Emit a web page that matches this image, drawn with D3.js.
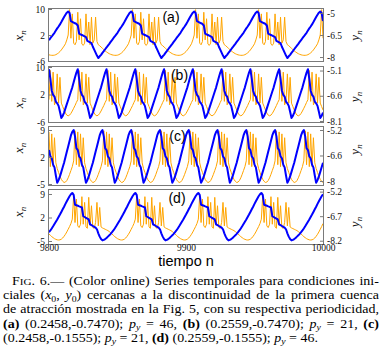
<!DOCTYPE html>
<html><head><meta charset="utf-8">
<script src="https://cdnjs.cloudflare.com/ajax/libs/d3/7.8.5/d3.min.js"></script>
<style>body{margin:0;background:#fff}svg{display:block}</style>
</head><body>
<svg id="c" width="382" height="358"></svg>
<script>
// ---------- data ----------
const nStart = 9800, nEnd = 10000;
const xTickValues = [9800, 9900, 10000];
const panelNames = ["(a)", "(b)", "(c)", "(d)"];
const leftTickValues = [[10, 2, -6], [10, 2, -6], [9, 2, -5], [9, 2, -5]];
const rightTickValues = [[-5, -6.5, -8], [-5.1, -6.6, -8.1], [-5.2, -6.6, -8], [-5.2, -6.7, -8.2]];

// panel (a): x_n (orange) and y_n (blue)
const xA = [-4.1,-4.2,-4.25,-4.25,-4.2,-4.05,-3.8,-3.5,-3.1,-2.6,-2,-1.4,-0.7,0.5,
2,9.8,1,8.5,-0.5,-1,0,9,0.5,7,-0.8,-1.2,-0.5,8.5,0,6,-1,7.5,-0.5,0.5,7.5,0,-1,-1.3,-1.7,-2.1,-2.5,-2.9,-3.2,-3.5,-3.75,-3.95,-4.1,-4.2,-4.25,-4.25,-4.2,-4.05,-3.8,-3.5,-3.1,-2.6,-2,-1.4,-0.7,0.5,
2,9.8,1,8.5,-0.5,-1,0,9,0.5,7,-0.8,-1.2,-0.5,8.5,0,6,-1,7.5,-0.5,0.5,7.5,0,-1,-1.3,-1.7,-2.1,-2.5,-2.9,-3.2,-3.5,-3.75,-3.95,-4.1,-4.2,-4.25,-4.25,-4.2,-4.05,-3.8,-3.5,-3.1,-2.6,-2,-1.4,-0.7,0.5,
2,9.8,1,8.5,-0.5,-1,0,9,0.5,7,-0.8,-1.2,-0.5,8.5,0,6,-1,7.5,-0.5,0.5,7.5,0,-1,-1.3,-1.7,-2.1,-2.5,-2.9,-3.2,-3.5,-3.75,-3.95,-4.1,-4.2,-4.25,-4.25,-4.2,-4.05,-3.8,-3.5,-3.1,-2.6,-2,-1.4,-0.7,0.5,
2,9.8,1,8.5,-0.5,-1,0,9,0.5,7,-0.8,-1.2,-0.5,8.5,0,6,-1,7.5,-0.5,0.5,7.5,0,-1,-1.3,-1.7,-2.1,-2.5,-2.9,-3.2,-3.5,-3.75,-3.95,-4.1,-4.2,-4.25,-4.25,-4.2,-4.05,-3.8,-3.5,-3.1,-2.6,-2,-1.4,-0.7,0.5,
2,9.8,1];
const yA = [-6.85,-6.72,-6.6,-6.47,-6.35,-6.2,-6.05,-5.92,-5.78,-5.62,-5.45,-5.28,-5.12,-4.98,
-4.9,-5,-5.55,-5.6,-5.65,-5.7,-5.75,-5.85,-6.4,-6.45,-6.5,-6.55,-6.6,-6.65,-6.9,-6.95,-7,-7.05,-7.3,-7.5,-7.7,-7.9,-8.07,-7.95,-7.85,-7.72,-7.6,-7.47,-7.35,-7.22,-7.1,-6.97,-6.85,-6.72,-6.6,-6.47,-6.35,-6.2,-6.05,-5.92,-5.78,-5.62,-5.45,-5.28,-5.12,-4.98,
-4.9,-5,-5.55,-5.6,-5.65,-5.7,-5.75,-5.85,-6.4,-6.45,-6.5,-6.55,-6.6,-6.65,-6.9,-6.95,-7,-7.05,-7.3,-7.5,-7.7,-7.9,-8.07,-7.95,-7.85,-7.72,-7.6,-7.47,-7.35,-7.22,-7.1,-6.97,-6.85,-6.72,-6.6,-6.47,-6.35,-6.2,-6.05,-5.92,-5.78,-5.62,-5.45,-5.28,-5.12,-4.98,
-4.9,-5,-5.55,-5.6,-5.65,-5.7,-5.75,-5.85,-6.4,-6.45,-6.5,-6.55,-6.6,-6.65,-6.9,-6.95,-7,-7.05,-7.3,-7.5,-7.7,-7.9,-8.07,-7.95,-7.85,-7.72,-7.6,-7.47,-7.35,-7.22,-7.1,-6.97,-6.85,-6.72,-6.6,-6.47,-6.35,-6.2,-6.05,-5.92,-5.78,-5.62,-5.45,-5.28,-5.12,-4.98,
-4.9,-5,-5.55,-5.6,-5.65,-5.7,-5.75,-5.85,-6.4,-6.45,-6.5,-6.55,-6.6,-6.65,-6.9,-6.95,-7,-7.05,-7.3,-7.5,-7.7,-7.9,-8.07,-7.95,-7.85,-7.72,-7.6,-7.47,-7.35,-7.22,-7.1,-6.97,-6.85,-6.72,-6.6,-6.47,-6.35,-6.2,-6.05,-5.92,-5.78,-5.62,-5.45,-5.28,-5.12,-4.98,
-4.9,-5,-5.55];

// panel (b)
const xB = [0.5,9,0,8.5,-1,0,8,-0.5,7,-0.5,-1.5,-2.5,-3.4,-4,-4.2,-4,-3.5,-2.8,-2,-1.2,-0.3,
0.5,9,0,8.5,-1,0,8,-0.5,7,-0.5,-1.5,-2.5,-3.4,-4,-4.2,-4,-3.5,-2.8,-2,-1.2,-0.3,
0.5,9,0,8.5,-1,0,8,-0.5,7,-0.5,-1.5,-2.5,-3.4,-4,-4.2,-4,-3.5,-2.8,-2,-1.2,-0.3,
0.5,9,0,8.5,-1,0,8,-0.5,7,-0.5,-1.5,-2.5,-3.4,-4,-4.2,-4,-3.5,-2.8,-2,-1.2,-0.3,
0.5,9,0,8.5,-1,0,8,-0.5,7,-0.5,-1.5,-2.5,-3.4,-4,-4.2,-4,-3.5,-2.8,-2,-1.2,-0.3,
0.5,9,0,8.5,-1,0,8,-0.5,7,-0.5,-1.5,-2.5,-3.4,-4,-4.2,-4,-3.5,-2.8,-2,-1.2,-0.3,
0.5,9,0,8.5,-1,0,8,-0.5,7,-0.5,-1.5,-2.5,-3.4,-4,-4.2,-4,-3.5,-2.8,-2,-1.2,-0.3,
0.5,9,0,8.5,-1,0,8,-0.5,7,-0.5,-1.5,-2.5,-3.4,-4,-4.2,-4,-3.5,-2.8,-2,-1.2,-0.3,
0.5,9,0,8.5,-1,0,8,-0.5,7,-0.5,-1.5,-2.5,-3.4,-4,-4.2,-4,-3.5,-2.8,-2,-1.2,-0.3,
0.5,9,0,8.5,-1,0,8,-0.5,7,-0.5,-1.5,-2.5];
const yB = [-5.02,-5.6,-6.3,-6.55,-6.65,-6.95,-7.05,-7.2,-7.55,-7.92,-7.8,-7.6,-7.35,-7.1,-6.85,-6.6,-6.35,-6.1,-5.8,-5.5,-5.22,
-5.02,-5.6,-6.3,-6.55,-6.65,-6.95,-7.05,-7.2,-7.55,-7.92,-7.8,-7.6,-7.35,-7.1,-6.85,-6.6,-6.35,-6.1,-5.8,-5.5,-5.22,
-5.02,-5.6,-6.3,-6.55,-6.65,-6.95,-7.05,-7.2,-7.55,-7.92,-7.8,-7.6,-7.35,-7.1,-6.85,-6.6,-6.35,-6.1,-5.8,-5.5,-5.22,
-5.02,-5.6,-6.3,-6.55,-6.65,-6.95,-7.05,-7.2,-7.55,-7.92,-7.8,-7.6,-7.35,-7.1,-6.85,-6.6,-6.35,-6.1,-5.8,-5.5,-5.22,
-5.02,-5.6,-6.3,-6.55,-6.65,-6.95,-7.05,-7.2,-7.55,-7.92,-7.8,-7.6,-7.35,-7.1,-6.85,-6.6,-6.35,-6.1,-5.8,-5.5,-5.22,
-5.02,-5.6,-6.3,-6.55,-6.65,-6.95,-7.05,-7.2,-7.55,-7.92,-7.8,-7.6,-7.35,-7.1,-6.85,-6.6,-6.35,-6.1,-5.8,-5.5,-5.22,
-5.02,-5.6,-6.3,-6.55,-6.65,-6.95,-7.05,-7.2,-7.55,-7.92,-7.8,-7.6,-7.35,-7.1,-6.85,-6.6,-6.35,-6.1,-5.8,-5.5,-5.22,
-5.02,-5.6,-6.3,-6.55,-6.65,-6.95,-7.05,-7.2,-7.55,-7.92,-7.8,-7.6,-7.35,-7.1,-6.85,-6.6,-6.35,-6.1,-5.8,-5.5,-5.22,
-5.02,-5.6,-6.3,-6.55,-6.65,-6.95,-7.05,-7.2,-7.55,-7.92,-7.8,-7.6,-7.35,-7.1,-6.85,-6.6,-6.35,-6.1,-5.8,-5.5,-5.22,
-5.02,-5.6,-6.3,-6.55,-6.65,-6.95,-7.05,-7.2,-7.55,-7.92,-7.8,-7.6];

// panel (c)
const xC = [8.5,-0.5,8,-0.5,7,0.5,-1,-2,-3,-3.8,-4.3,-4.6,-4.5,-4.1,-3.4,-2.5,-1.5,-0.5,
1,8.8,0,8.5,-0.5,8,-0.5,7,0.5,-1,-2,-3,-3.8,-4.3,-4.6,-4.5,-4.1,-3.4,-2.5,-1.5,-0.5,
1,8.8,0,8.5,-0.5,8,-0.5,7,0.5,-1,-2,-3,-3.8,-4.3,-4.6,-4.5,-4.1,-3.4,-2.5,-1.5,-0.5,
1,8.8,0,8.5,-0.5,8,-0.5,7,0.5,-1,-2,-3,-3.8,-4.3,-4.6,-4.5,-4.1,-3.4,-2.5,-1.5,-0.5,
1,8.8,0,8.5,-0.5,8,-0.5,7,0.5,-1,-2,-3,-3.8,-4.3,-4.6,-4.5,-4.1,-3.4,-2.5,-1.5,-0.5,
1,8.8,0,8.5,-0.5,8,-0.5,7,0.5,-1,-2,-3,-3.8,-4.3,-4.6,-4.5,-4.1,-3.4,-2.5,-1.5,-0.5,
1,8.8,0,8.5,-0.5,8,-0.5,7,0.5,-1,-2,-3,-3.8,-4.3,-4.6,-4.5,-4.1,-3.4,-2.5,-1.5,-0.5,
1,8.8,0,8.5,-0.5,8,-0.5,7,0.5,-1,-2,-3,-3.8,-4.3,-4.6,-4.5,-4.1,-3.4,-2.5,-1.5,-0.5,
1,8.8,0,8.5,-0.5,8,-0.5,7,0.5,-1,-2,-3,-3.8,-4.3,-4.6,-4.5,-4.1,-3.4,-2.5,-1.5,-0.5,
1,8.8,0,8.5,-0.5,8,-0.5,7,0.5,-1,-2,-3,-3.8,-4.3,-4.6];
const yC = [-6.3,-6.65,-6.75,-7.1,-7.25,-7.7,-8.1,-7.95,-7.75,-7.5,-7.25,-7,-6.7,-6.4,-6.1,-5.8,-5.5,-5.3,
-5.2,-5.55,-6.2,-6.3,-6.65,-6.75,-7.1,-7.25,-7.7,-8.1,-7.95,-7.75,-7.5,-7.25,-7,-6.7,-6.4,-6.1,-5.8,-5.5,-5.3,
-5.2,-5.55,-6.2,-6.3,-6.65,-6.75,-7.1,-7.25,-7.7,-8.1,-7.95,-7.75,-7.5,-7.25,-7,-6.7,-6.4,-6.1,-5.8,-5.5,-5.3,
-5.2,-5.55,-6.2,-6.3,-6.65,-6.75,-7.1,-7.25,-7.7,-8.1,-7.95,-7.75,-7.5,-7.25,-7,-6.7,-6.4,-6.1,-5.8,-5.5,-5.3,
-5.2,-5.55,-6.2,-6.3,-6.65,-6.75,-7.1,-7.25,-7.7,-8.1,-7.95,-7.75,-7.5,-7.25,-7,-6.7,-6.4,-6.1,-5.8,-5.5,-5.3,
-5.2,-5.55,-6.2,-6.3,-6.65,-6.75,-7.1,-7.25,-7.7,-8.1,-7.95,-7.75,-7.5,-7.25,-7,-6.7,-6.4,-6.1,-5.8,-5.5,-5.3,
-5.2,-5.55,-6.2,-6.3,-6.65,-6.75,-7.1,-7.25,-7.7,-8.1,-7.95,-7.75,-7.5,-7.25,-7,-6.7,-6.4,-6.1,-5.8,-5.5,-5.3,
-5.2,-5.55,-6.2,-6.3,-6.65,-6.75,-7.1,-7.25,-7.7,-8.1,-7.95,-7.75,-7.5,-7.25,-7,-6.7,-6.4,-6.1,-5.8,-5.5,-5.3,
-5.2,-5.55,-6.2,-6.3,-6.65,-6.75,-7.1,-7.25,-7.7,-8.1,-7.95,-7.75,-7.5,-7.25,-7,-6.7,-6.4,-6.1,-5.8,-5.5,-5.3,
-5.2,-5.55,-6.2,-6.3,-6.65,-6.75,-7.1,-7.25,-7.7,-8.1,-7.95,-7.75,-7.5,-7.25,-7];

// panel (d)
const xD = [-2.9,-3.3,-3.7,-4,-4.3,-4.5,-4.65,-4.7,-4.65,-4.45,-4.1,-3.6,-3,-2.3,-1.5,-0.7,0.2,
1.5,8.6,0.5,7.5,-0.5,-1,0,8.2,0,6.5,-0.8,-1.2,8,-0.3,5.5,-1,-1.2,0.5,6.5,-0.5,5,-0.8,-1.1,-1.3,-1.5,-1.7,-1.9,-2.2,-2.5,-2.9,-3.3,-3.7,-4,-4.3,-4.5,-4.65,-4.7,-4.65,-4.45,-4.1,-3.6,-3,-2.3,-1.5,-0.7,0.2,
1.5,8.6,0.5,7.5,-0.5,-1,0,8.2,0,6.5,-0.8,-1.2,8,-0.3,5.5,-1,-1.2,0.5,6.5,-0.5,5,-0.8,-1.1,-1.3,-1.5,-1.7,-1.9,-2.2,-2.5,-2.9,-3.3,-3.7,-4,-4.3,-4.5,-4.65,-4.7,-4.65,-4.45,-4.1,-3.6,-3,-2.3,-1.5,-0.7,0.2,
1.5,8.6,0.5,7.5,-0.5,-1,0,8.2,0,6.5,-0.8,-1.2,8,-0.3,5.5,-1,-1.2,0.5,6.5,-0.5,5,-0.8,-1.1,-1.3,-1.5,-1.7,-1.9,-2.2,-2.5,-2.9,-3.3,-3.7,-4,-4.3,-4.5,-4.65,-4.7,-4.65,-4.45,-4.1,-3.6,-3,-2.3,-1.5,-0.7,0.2,
1.5,8.6,0.5,7.5,-0.5,-1,0,8.2,0,6.5,-0.8,-1.2,8,-0.3,5.5,-1,-1.2,0.5,6.5,-0.5,5,-0.8,-1.1,-1.3,-1.5,-1.7,-1.9,-2.2,-2.5,-2.9,-3.3,-3.7,-4,-4.3,-4.5,-4.65,-4.7,-4.65,-4.45,-4.1,-3.6,-3,-2.3,-1.5,-0.7,0.2];
const yD = [-7.68,-7.57,-7.45,-7.32,-7.18,-7.04,-6.9,-6.75,-6.6,-6.44,-6.28,-6.12,-5.95,-5.79,-5.63,-5.48,-5.36,
-5.28,-5.4,-6,-6.03,-6.06,-6.1,-6.13,-6.17,-6.7,-6.75,-6.8,-6.85,-6.9,-7.2,-7.25,-7.3,-7.35,-7.4,-7.5,-7.75,-7.95,-8.1,-8.18,-8.15,-8.1,-8.03,-7.95,-7.87,-7.78,-7.68,-7.57,-7.45,-7.32,-7.18,-7.04,-6.9,-6.75,-6.6,-6.44,-6.28,-6.12,-5.95,-5.79,-5.63,-5.48,-5.36,
-5.28,-5.4,-6,-6.03,-6.06,-6.1,-6.13,-6.17,-6.7,-6.75,-6.8,-6.85,-6.9,-7.2,-7.25,-7.3,-7.35,-7.4,-7.5,-7.75,-7.95,-8.1,-8.18,-8.15,-8.1,-8.03,-7.95,-7.87,-7.78,-7.68,-7.57,-7.45,-7.32,-7.18,-7.04,-6.9,-6.75,-6.6,-6.44,-6.28,-6.12,-5.95,-5.79,-5.63,-5.48,-5.36,
-5.28,-5.4,-6,-6.03,-6.06,-6.1,-6.13,-6.17,-6.7,-6.75,-6.8,-6.85,-6.9,-7.2,-7.25,-7.3,-7.35,-7.4,-7.5,-7.75,-7.95,-8.1,-8.18,-8.15,-8.1,-8.03,-7.95,-7.87,-7.78,-7.68,-7.57,-7.45,-7.32,-7.18,-7.04,-6.9,-6.75,-6.6,-6.44,-6.28,-6.12,-5.95,-5.79,-5.63,-5.48,-5.36,
-5.28,-5.4,-6,-6.03,-6.06,-6.1,-6.13,-6.17,-6.7,-6.75,-6.8,-6.85,-6.9,-7.2,-7.25,-7.3,-7.35,-7.4,-7.5,-7.75,-7.95,-8.1,-8.18,-8.15,-8.1,-8.03,-7.95,-7.87,-7.78,-7.68,-7.57,-7.45,-7.32,-7.18,-7.04,-6.9,-6.75,-6.6,-6.44,-6.28,-6.12,-5.95,-5.79,-5.63,-5.48,-5.36];

const captionLines = [
  [["F","n"],["IG","sc"],[". 6.\u2014 (Color online) Series temporales para condiciones ini-","n"]],
  [["ciales (","n"],["x","i"],["0","sub"],[", ","n"],["y","i"],["0","sub"],[") cercanas a la discontinuidad de la primera cuenca","n"]],
  [["de atracci\u00f3n mostrada en la Fig. 5, con su respectiva periodicidad,","n"]],
  [["(a)","b"],[" (0.2458,-0.7470); ","n"],["p","i"],["y","isub"],[" = 46, ","n"],["(b)","b"],[" (0.2559,-0.7470); ","n"],["p","i"],["y","isub"],[" = 21, ","n"],["(c)","b"]],
  [["(0.2458,-0.1555); ","n"],["p","i"],["y","isub"],[" = 21, ","n"],["(d)","b"],[" (0.2559,-0.1555); ","n"],["p","i"],["y","isub"],[" = 46.","n"]]
];

// ---------- layout ----------
const svg = d3.select("#c");
const X0 = 49, X1 = 323;
const layout = [
  {top: 9,   bottom: 61,  left: [-6, 10],       right: [-8.27, -4.73], lx: 171,   ly: 21.5,  xlab: 35.5, ylab: 35.5},
  {top: 67,  bottom: 122, left: [-6, 10],       right: [-8.16, -4.89], lx: 179.5, ly: 79.5,  xlab: 103,  ylab: 97},
  {top: 127, bottom: 185, left: [-5.26, 9.78],  right: [-8.22, -5.035],lx: 177.5, ly: 140.5, xlab: 148,  ylab: 149.5},
  {top: 190, bottom: 244, left: [-5.89, 10.19], right: [-8.4, -5.1],   lx: 177,   ly: 202.5, xlab: 212,  ylab: 222}
];
const seriesX = [xA, xB, xC, xD];
const seriesY = [yA, yB, yC, yD];

const x = d3.scaleLinear().domain([nStart, nEnd]).range([X0, X1]);
const fmt = d => String(d);
const tickFont = "'Liberation Serif','Times New Roman',serif";
const tickSize = 9.5;

layout.forEach((p, i) => {
  const yl = d3.scaleLinear().domain(p.left).range([p.bottom, p.top]);
  const yr = d3.scaleLinear().domain(p.right).range([p.bottom, p.top]);
  const g = svg.append("g");
  const cid = "clip" + i;
  svg.append("clipPath").attr("id", cid).append("rect")
    .attr("x", X0).attr("y", p.top).attr("width", X1 - X0).attr("height", p.bottom - p.top);

  const lineX = d3.line().x((d, k) => x(nStart + k)).y(d => yl(d));
  const lineY = d3.line().x((d, k) => x(nStart + k)).y(d => yr(d));
  g.append("path").attr("clip-path", `url(#${cid})`).attr("d", lineX(seriesX[i]))
    .attr("fill", "none").attr("stroke", "#ffa500").attr("stroke-width", 1).attr("stroke-linejoin", "round");
  g.append("path").attr("clip-path", `url(#${cid})`).attr("d", lineY(seriesY[i]))
    .attr("fill", "none").attr("stroke", "#0000ff").attr("stroke-width", 2).attr("stroke-linejoin", "round");

  g.append("rect").attr("x", X0 - 0.5).attr("y", p.top - 0.5)
    .attr("width", X1 - X0 + 1).attr("height", p.bottom - p.top + 1)
    .attr("fill", "none").attr("stroke", "#7a7a7a").attr("stroke-width", 1);

  const la = g.append("g").attr("transform", `translate(${X0},0)`)
    .call(d3.axisLeft(yl).tickValues(leftTickValues[i]).tickFormat(fmt).tickSizeInner(-3).tickSizeOuter(0).tickPadding(4));
  const ra = g.append("g").attr("transform", `translate(${X1},0)`)
    .call(d3.axisRight(yr).tickValues(rightTickValues[i]).tickFormat(fmt).tickSizeInner(-3).tickSizeOuter(0).tickPadding(4));
  [la, ra].forEach(a => {
    a.select(".domain").remove();
    a.selectAll("line").attr("stroke", "#7a7a7a");
    a.selectAll("text").attr("font-family", tickFont).attr("font-size", tickSize).attr("fill", "#111");
  });

  g.append("text").attr("x", p.lx).attr("y", p.ly).attr("text-anchor", "middle")
    .attr("font-family", "'Liberation Sans',Arial,sans-serif").attr("font-size", 14).attr("fill", "#000")
    .text(panelNames[i]);

  const xl = g.append("text").attr("transform", `translate(23,${p.xlab}) rotate(-90)`).attr("text-anchor", "middle")
    .attr("font-family", tickFont).attr("font-size", 13).attr("fill", "#111");
  xl.append("tspan").attr("font-style", "italic").text("x");
  xl.append("tspan").attr("font-style", "italic").attr("font-size", 9).attr("dy", 3).text("n");
  const yl2 = g.append("text").attr("transform", `translate(359,${p.ylab}) rotate(-90)`).attr("text-anchor", "middle")
    .attr("font-family", tickFont).attr("font-size", 13).attr("fill", "#111");
  yl2.append("tspan").attr("font-style", "italic").text("y");
  yl2.append("tspan").attr("font-style", "italic").attr("font-size", 9).attr("dy", 3).text("n");

  if (i === 3) {
    const xa = svg.append("g").attr("transform", `translate(0,${p.bottom})`)
      .call(d3.axisBottom(x).tickValues(xTickValues).tickFormat(fmt).tickSizeInner(0).tickSizeOuter(0).tickPadding(0));
    xa.select(".domain").remove();
    xa.selectAll("text").attr("font-family", tickFont).attr("font-size", tickSize).attr("fill", "#111");
  }
});

svg.append("text").attr("x", 186).attr("y", 266).attr("text-anchor", "middle")
  .attr("font-family", "'Liberation Sans',Arial,sans-serif").attr("font-size", 14.5).attr("fill", "#000")
  .text("tiempo n");

// ---------- caption ----------
const capFont = "'Liberation Serif','Times New Roman',serif";
const capSize = 11.5;
const capBase = [285, 299, 313, 327.5, 341.5];
const capStart = [12, 3, 3, 3, 3];
const capEnd = [379, 379, 379, 379, null];
const line5Width = 315;
const texts = captionLines.map((segs, li) => {
  const t = svg.append("text").attr("x", 0).attr("y", 0)
    .attr("font-family", capFont).attr("font-size", capSize).attr("fill", "#000")
    .style("white-space", "pre");
  let shift = 0;
  segs.forEach(([s, st]) => {
    const ts = t.append("tspan").text(s);
    let dy = 0;
    if (st === "b") ts.attr("font-weight", "bold");
    if (st === "i") ts.attr("font-style", "italic");
    if (st === "sc") ts.attr("font-size", capSize * 0.8);
    if (st === "sub" || st === "isub") {
      ts.attr("font-size", capSize * 0.7);
      if (st === "isub") ts.attr("font-style", "italic");
      dy = 2.5;
    }
    const d = dy - shift;
    if (d !== 0) ts.attr("dy", d);
    shift = dy;
  });
  return t;
});
const w5 = texts[4].node().getComputedTextLength();
const sx = line5Width / w5;
texts.forEach((t, li) => {
  const str = captionLines[li].map(s => s[0]).join("");
  const spaces = (str.match(/ /g) || []).length;
  if (capEnd[li] !== null) {
    const w = t.node().getComputedTextLength();
    const need = (capEnd[li] - capStart[li]) / sx;
    t.attr("word-spacing", (need - w) / spaces);
    const w2 = t.node().getComputedTextLength();
    if (Math.abs(w2 - need) > 2) {
      t.attr("word-spacing", null).attr("textLength", need).attr("lengthAdjust", "spacing");
    }
  }
  t.attr("transform", `translate(${capStart[li]},${capBase[li]}) scale(${sx},1)`);
});
</script>
</body></html>
